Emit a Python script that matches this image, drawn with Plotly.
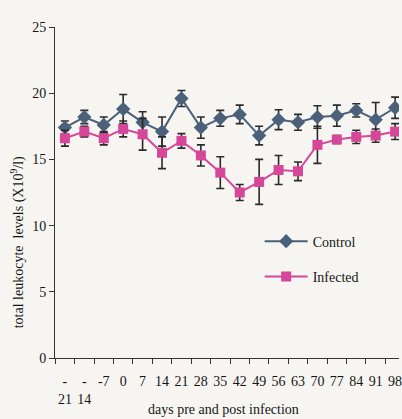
import plotly.graph_objects as go

days = ["-21", "-14", "-7", "0", "7", "14", "21", "28", "35", "42", "49", "56", "63", "70", "77", "84", "91", "98"]
tick_labels = ["-<br>21", "-<br>14", "-7", "0", "7", "14", "21", "28", "35", "42", "49", "56", "63", "70", "77", "84", "91", "98"]
control = [17.4, 18.2, 17.6, 18.8, 17.8, 17.1, 19.6, 17.4, 18.1, 18.4, 16.8, 18.0, 17.8, 18.2, 18.3, 18.7, 18.0, 18.9]
control_err = [0.5, 0.5, 0.6, 1.1, 0.8, 1.1, 0.6, 0.8, 0.6, 0.7, 0.7, 0.75, 0.6, 0.85, 0.8, 0.5, 1.3, 0.8]
infected = [16.6, 17.1, 16.6, 17.3, 16.9, 15.5, 16.4, 15.3, 14.0, 12.5, 13.3, 14.2, 14.1, 16.1, 16.5, 16.7, 16.8, 17.1]
infected_err = [0.6, 0.4, 0.5, 0.6, 1.2, 1.2, 0.55, 0.8, 1.2, 0.6, 1.7, 1.1, 0.7, 1.4, 0.3, 0.5, 0.5, 0.6]

xi = list(range(len(days)))
FONT = "Liberation Serif"
BG = "#f7f5f1"
TXT = "#151515"

fig = go.Figure()
fig.add_trace(go.Scatter(
    x=xi, y=control, name="Control", mode="lines+markers",
    line=dict(color="#4b6079", width=2),
    marker=dict(symbol="diamond", size=11, color="#4b6079"),
    error_y=dict(type="data", array=control_err, color="#2a2a2a", thickness=1.6, width=4),
    legendgroup="a",
))
fig.add_trace(go.Scatter(
    x=xi, y=infected, name="Infected", mode="lines+markers",
    line=dict(color="#d6479a", width=2),
    marker=dict(symbol="square", size=10, color="#d6479a"),
    error_y=dict(type="data", array=infected_err, color="#2a2a2a", thickness=1.6, width=4),
    legendgroup="b",
))

fig.update_layout(
    width=402, height=419,
    margin=dict(l=55, r=0, t=27, b=61),
    paper_bgcolor=BG, plot_bgcolor=BG,
    font=dict(family=FONT, size=14, color=TXT),
    showlegend=True,
    legend=dict(x=0.595, y=0.4, xanchor="left", yanchor="top", bgcolor="rgba(0,0,0,0)",
                font=dict(family=FONT, size=14, color=TXT), itemwidth=43,
                traceorder="grouped", tracegroupgap=14),
    xaxis=dict(
        range=[-0.51, 17.2], tickmode="array", tickvals=xi, ticktext=tick_labels,
        ticks="", showgrid=False, zeroline=False, showline=True, linecolor="#333", linewidth=1,
        minor=dict(tick0=-0.5, dtick=1, ticks="outside", ticklen=5, tickcolor="#333", showgrid=False),
        tickfont=dict(family=FONT, size=14, color=TXT), ticklabelstandoff=10,
        ticklabeloverflow="allow",
    ),
    yaxis=dict(
        range=[0, 25], tickvals=[0, 5, 10, 15, 20, 25], ticks="outside", ticklen=5, tickcolor="#333",
        showgrid=False, zeroline=False, showline=True, linecolor="#333", linewidth=1,
        tickfont=dict(family=FONT, size=14, color=TXT),
    ),
    annotations=[
        dict(text="total leukocyte  levels (X10<sup>9</sup>/l)", xref="paper", yref="paper",
             x=-0.11, y=0.35, textangle=-90, showarrow=False, xanchor="center", yanchor="middle",
             font=dict(family=FONT, size=14, color=TXT)),
        dict(text="days pre and post infection", xref="paper", yref="paper",
             x=0.49, y=-0.157, showarrow=False, xanchor="center", yanchor="middle",
             font=dict(family=FONT, size=14, color=TXT)),
    ],
)

fig.write_html("out.html")
